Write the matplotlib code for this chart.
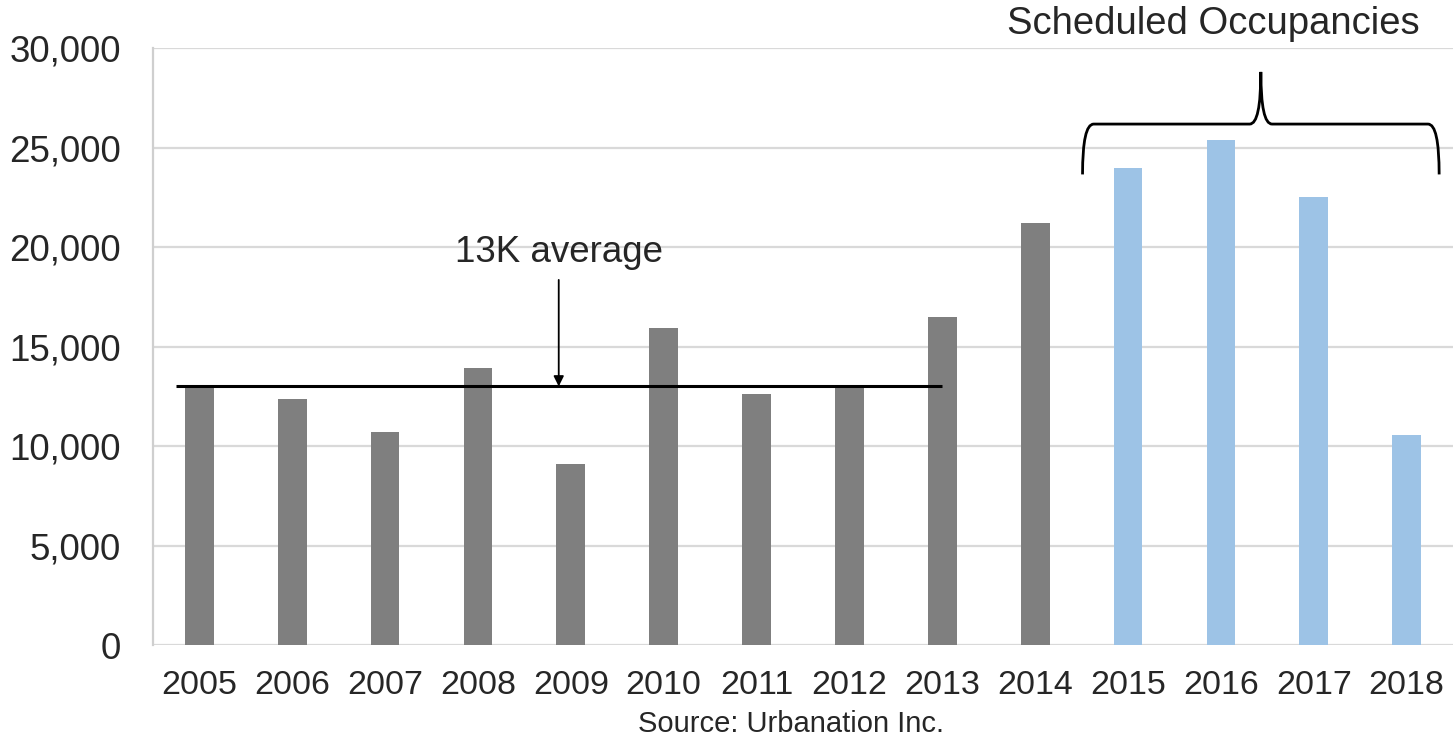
import matplotlib
matplotlib.use("Agg")
import matplotlib.pyplot as plt
from matplotlib.path import Path
from matplotlib.patches import PathPatch
from matplotlib.ticker import FuncFormatter

plt.rcParams['font.family'] = ['Liberation Sans', 'DejaVu Sans']

years = ['2005', '2006', '2007', '2008', '2009', '2010', '2011',
         '2012', '2013', '2014', '2015', '2016', '2017', '2018']
completions = [12950, 12350, 10700, 13900, 9100, 15950, 12600,
               13000, 16500, 21200, 23950, 25400, 22500, 10550]
first_scheduled = '2015'
average_level = 13000
average_label = '13K average'
brace_label = 'Scheduled Occupancies'
source_note = 'Source: Urbanation Inc.'

GRAY = '#7f7f7f'
BLUE = '#9dc3e6'
TEXT = '#262626'

fig = plt.figure(figsize=(14.56, 7.39), dpi=100)
ax = fig.add_axes([0.105, 0.127, 0.893, 0.808])

x = list(range(len(years)))
split = years.index(first_scheduled)
colors = [GRAY if i < split else BLUE for i in x]
ax.bar(x, completions, width=0.31, color=colors, zorder=2)

ax.set_xlim(-0.5, len(years) - 0.5)
ax.set_ylim(0, 30000)
ax.set_yticks(range(0, 30001, 5000))
ax.yaxis.set_major_formatter(FuncFormatter(lambda v, p: f'{int(v):,}'))
ax.set_xticks(x)
ax.set_xticklabels(years)
ax.tick_params(axis='both', length=0, colors=TEXT)
ax.tick_params(axis='y', pad=23, labelsize=26.5)
ax.tick_params(axis='x', pad=18, labelsize=24.5)

ax.yaxis.grid(True, color='#d9d9d9', linewidth=1.6, zorder=0)
for side in ('top', 'right', 'bottom'):
    ax.spines[side].set_visible(False)
ax.spines['left'].set_color('#cfcfcf')
ax.spines['left'].set_linewidth(1.6)

# average line over 2005-2013, with a pointer from the label
ax.plot([-0.25, years.index('2013')], [average_level, average_level],
        color='black', linewidth=2.2, zorder=3, solid_capstyle='butt')
ax.text(3.87, 19750, average_label, ha='center', va='center',
        fontsize=26.5, color=TEXT, zorder=4)
ax.annotate('', xy=(3.87, average_level), xytext=(3.87, 18350),
            arrowprops=dict(arrowstyle='-|>,head_length=0.6,head_width=0.3',
                            color='black', lw=1.3, shrinkA=0, shrinkB=0),
            zorder=4)

# curly brace over the scheduled years
x0, x1 = 9.51, 13.35
xc = (x0 + x1) / 2
y_tip, y_h, y_top = 23650, 26180, 28800
r = 0.12
verts = [(x0, y_tip), (x0, y_h), (x0 + r, y_h),
         (xc - r, y_h),
         (xc, y_h), (xc, y_top),
         (xc, y_h), (xc + r, y_h),
         (x1 - r, y_h),
         (x1, y_h), (x1, y_tip)]
codes = [Path.MOVETO, Path.CURVE3, Path.CURVE3,
         Path.LINETO,
         Path.CURVE3, Path.CURVE3,
         Path.CURVE3, Path.CURVE3,
         Path.LINETO,
         Path.CURVE3, Path.CURVE3]
ax.add_patch(PathPatch(Path(verts, codes), fill=False, edgecolor='black',
                       linewidth=2.0, clip_on=False, zorder=4))
ax.text(10.92, 31200, brace_label, ha='center', va='center',
        fontsize=27.5, color=TEXT, clip_on=False)

fig.text(0.543, 0.020, source_note, ha='center', va='center',
         fontsize=21, color=TEXT)

fig.savefig('out.png', dpi=100, facecolor='white')
